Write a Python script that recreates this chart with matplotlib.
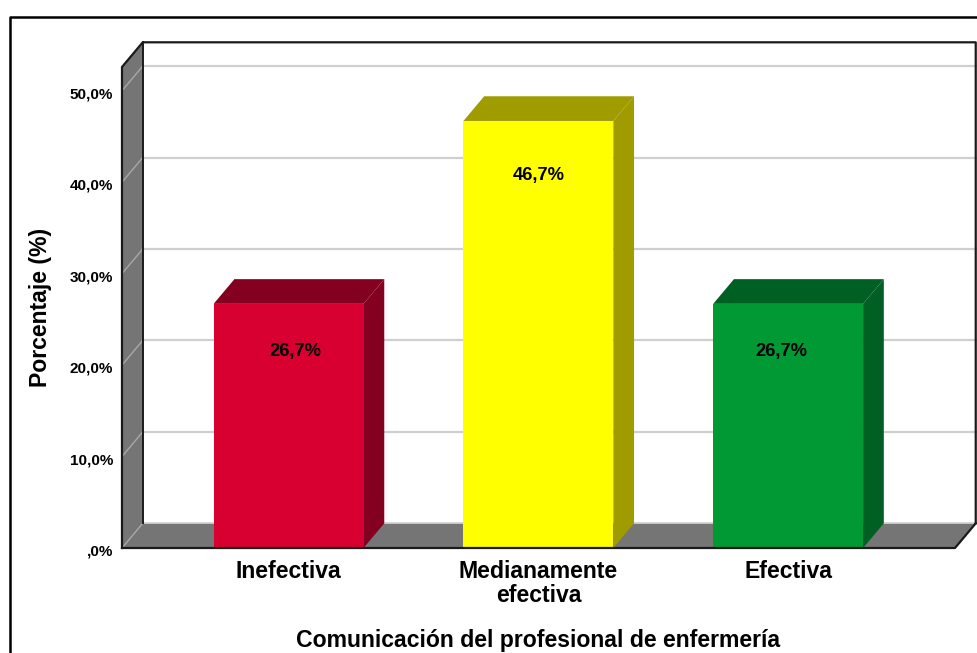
import matplotlib
matplotlib.use("Agg")
import matplotlib.pyplot as plt
from matplotlib.patches import Polygon
from matplotlib.lines import Line2D
from matplotlib.transforms import ScaledTranslation

categories = ["Inefectiva", "Medianamente\nefectiva", "Efectiva"]
values = [26.7, 46.7, 26.7]
value_labels = ["26,7%", "46,7%", "26,7%"]
front_colors = ["#d70030", "#ffff00", "#009933"]
side_colors = ["#840020", "#a09c00", "#005f22"]
top_colors = ["#840020", "#a09c00", "#005f22"]
y_ticks = [0, 10, 20, 30, 40, 50]
y_tick_labels = [",0%", "10,0%", "20,0%", "30,0%", "40,0%", "50,0%"]

W, H = 978, 653
plt.rcParams["font.family"] = ["Liberation Sans", "DejaVu Sans"]

fig = plt.figure(figsize=(W / 100, H / 100), dpi=100)

# front plane of the 3D box, in pixels from the top left
left, right, top, bottom = 122, 955, 67, 548
ax = fig.add_axes([left / W, 1 - bottom / H, (right - left) / W, (bottom - top) / H])
ymax = 52.6
xmin, xmax = -0.667, 2.668
ax.set_xlim(xmin, xmax)
ax.set_ylim(0, ymax)
ax.patch.set_visible(False)
for s in ax.spines.values():
    s.set_visible(False)

# depth of the box in data units
dx = 0.083
dy = 2.7
bar_w = 0.6
wall = "#757575"
edge = "#1a1a1a"

# value labels sit at their own spots inside the bars
label_dx = [0.026, 0.0, -0.028]
label_drop = [5.2, 6.0, 5.2]


def poly(pts, fc, ec="none", z=1, lw=0):
    ax.add_patch(Polygon(pts, closed=True, fc=fc, ec=ec, lw=lw, zorder=z, clip_on=False))


# left wall and floor
poly([(xmin, 0), (xmin + dx, dy), (xmin + dx, ymax + dy), (xmin, ymax)], wall, z=1)
poly([(xmin, 0), (xmin + dx, dy), (xmax + dx, dy), (xmax, 0)], wall, z=1)

# gridlines on the back wall and their continuation on the left wall
for t in y_ticks:
    if t > 0:
        ax.plot([xmin + dx, xmax + dx], [t + dy, t + dy], color="#cfcfcf", lw=1.6, zorder=2, clip_on=False)
    ax.plot([xmin, xmin + dx], [t, t + dy], color="#a8a8a8", lw=1.0, zorder=2, clip_on=False)

# box outlines
ax.plot([xmin, xmin, xmin + dx, xmax + dx, xmax + dx], [0, ymax, ymax + dy, ymax + dy, dy],
        color=edge, lw=1.6, zorder=3, clip_on=False)
ax.plot([xmin + dx, xmin + dx], [dy, ymax + dy], color=edge, lw=1.4, zorder=3, clip_on=False)
ax.plot([xmin, xmax, xmax + dx], [0, 0, dy], color=edge, lw=1.6, zorder=6, clip_on=False)
ax.plot([xmin + dx, xmax + dx], [dy, dy], color="#d0d0d0", lw=1.2, zorder=2, clip_on=False)

# bars with their side and top faces
for i, v in enumerate(values):
    x0 = i - bar_w / 2
    x1 = i + bar_w / 2
    poly([(x1, 0), (x1 + dx, dy), (x1 + dx, v + dy), (x1, v)], side_colors[i], z=4)
    poly([(x0, v), (x0 + dx, v + dy), (x1 + dx, v + dy), (x1, v)], top_colors[i], z=4)
    poly([(x0, 0), (x0, v), (x1, v), (x1, 0)], front_colors[i], z=5)
    ax.text(i + label_dx[i], v - label_drop[i], value_labels[i], ha="center", va="center",
            fontsize=13.2, fontweight="bold", color="black", zorder=7)

ax.set_xticks(range(3))
ax.set_xticklabels(categories, fontsize=16.6, fontweight="bold", linespacing=1.0)
ax.set_yticks(y_ticks)
ax.set_yticklabels(y_tick_labels, fontsize=11, fontweight="bold")
ax.tick_params(axis="both", length=0)
ax.tick_params(axis="x", pad=9)
ax.tick_params(axis="y", pad=6.5)

# tick labels hang a little below their tick position
shift = ScaledTranslation(0, -2 / 100, fig.dpi_scale_trans)
for lab in ax.get_yticklabels():
    lab.set_transform(lab.get_transform() + shift)

fig.text(41 / W, 1 - 307 / H, "Porcentaje (%)", rotation=90, ha="center", va="center",
         fontsize=16.6, fontweight="bold")
fig.text(538 / W, 1 - 641 / H, "Comunicación del profesional de enfermería", ha="center", va="center",
         fontsize=16.6, fontweight="bold")

# outer frame, cut by the right and bottom edges
fig.add_artist(Line2D([10 / W, 10 / W, 1], [0, 1 - 17 / H, 1 - 17 / H], color="black", lw=1.8))

fig.savefig("out.png", dpi=100)
